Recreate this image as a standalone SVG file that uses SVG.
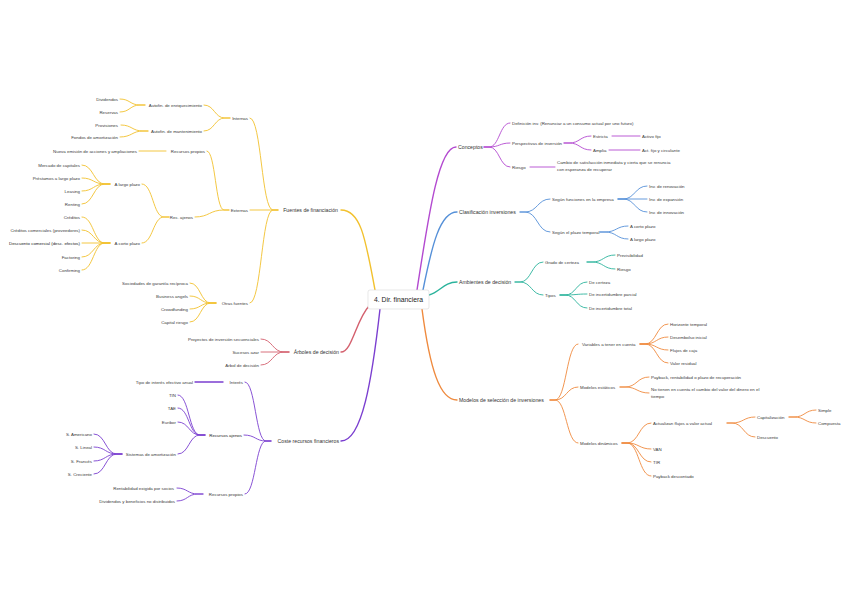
<svg xmlns="http://www.w3.org/2000/svg" width="848" height="599" viewBox="0 0 848 599">
<style>
.t{font-family:"Liberation Sans",Arial,sans-serif;font-size:4.4px;fill:#3a3a3a}
.m{font-size:5.2px;fill:#333}
.e{text-anchor:end}
.c path{fill:none;stroke-linecap:round;stroke-width:0.9}
.c path.k{stroke-width:1.4}
.y path{stroke:#f2c12e}.r path{stroke:#d4606e}.p path{stroke:#7b3fd0}
.g path{stroke:#b34ad0}.b path{stroke:#5590d8}.q path{stroke:#2bb39c}.o path{stroke:#ef8a3e}
</style>
<rect width="848" height="599" fill="#fff"/>
<g id="connectors" class="c">
<g class="y">
<path class="k" d="M375 290 C365 235 360 210 341 210"/>
<path d="M278 210 L273 210 C261.5 210 261.5 118 250 118"/>
<path d="M278 210 L250 210"/>
<path d="M278 210 L273 210 C261.5 210 261.5 303 250 303"/>
<path d="M230 118 L225 118 C214.5 118 214.5 105 204 105"/>
<path d="M230 118 L225 118 C214.5 118 214.5 131 204 131"/>
<path d="M145 105 L140 105 C130 105 130 99 120 99"/>
<path d="M145 105 L140 105 C130 105 130 112 120 112"/>
<path d="M148 131 L143 131 C132 131 132 125 121 125"/>
<path d="M148 131 L143 131 C132 131 132 137 120 137"/>
<path d="M229 210 L224 210 C215.5 210 215.5 151 207 151"/>
<path d="M229 210 L224 210 C209.5 210 209.5 217 195 217"/>
<path d="M166 151 L139 151"/>
<path d="M169 217 L164 217 C153 217 153 184 142 184"/>
<path d="M169 217 L164 217 C153 217 153 243 142 243"/>
<path d="M110 184 L105 184 C93.5 184 93.5 165 82 165"/>
<path d="M110 184 L105 184 C93.5 184 93.5 178 82 178"/>
<path d="M110 184 L105 184 C93.5 184 93.5 191 82 191"/>
<path d="M110 184 L105 184 C93.5 184 93.5 204 82 204"/>
<path d="M110 243 L105 243 C93.5 243 93.5 217 82 217"/>
<path d="M110 243 L105 243 C93.5 243 93.5 230 82 230"/>
<path d="M110 243 L82 243"/>
<path d="M110 243 L105 243 C93.5 243 93.5 257 82 257"/>
<path d="M110 243 L105 243 C93.5 243 93.5 270 82 270"/>
<path d="M216 303 L211 303 C200.5 303 200.5 283 190 283"/>
<path d="M216 303 L211 303 C200.5 303 200.5 296 190 296"/>
<path d="M216 303 L211 303 C200.5 303 200.5 309 190 309"/>
<path d="M216 303 L211 303 C200.5 303 200.5 322 190 322"/>
</g>
<g class="r">
<path class="k" d="M369 306 C356 320 352 352 341 352"/>
<path d="M289 352 L284 352 C272.5 352 272.5 339 261 339"/>
<path d="M289 352 L261 352"/>
<path d="M289 352 L284 352 C272.5 352 272.5 365 261 365"/>
</g>
<g class="p">
<path class="k" d="M380 309 C372 380 362 441 341 441"/>
<path d="M271 441 L266 441 C255.5 441 255.5 382 245 382"/>
<path d="M271 441 L266 441 C255.5 441 255.5 435 244 435"/>
<path d="M271 441 L266 441 C255.5 441 255.5 494 245 494"/>
<path class="k" d="M223 382 L195 382"/>
<path d="M205 435 L200 435 C189 435 189 395 178 395"/>
<path d="M205 435 L200 435 C189 435 189 408 178 408"/>
<path d="M205 435 L200 435 C189 435 189 422 178 422"/>
<path d="M205 435 L200 435 C189 435 189 454 178 454"/>
<path d="M122 454 L117 454 C105.5 454 105.5 434 94 434"/>
<path d="M122 454 L117 454 C105.5 454 105.5 447 94 447"/>
<path d="M122 454 L117 454 C105.5 454 105.5 461 94 461"/>
<path d="M122 454 L117 454 C105.5 454 105.5 474 94 474"/>
<path d="M203 494 L198 494 C187.5 494 187.5 488 177 488"/>
<path d="M203 494 L198 494 C187.5 494 187.5 501 177 501"/>
</g>
<g class="g">
<path class="k" d="M417 290 C428 220 438 147 456 147"/>
<path d="M484 147 L489 147 C499.5 147 499.5 123 510 123"/>
<path d="M484 147 L489 147 C499.5 147 499.5 143 510 143"/>
<path d="M484 147 L489 147 C499.5 147 499.5 167 510 167"/>
<path d="M564 143 L569 143 C580 143 580 136 591 136"/>
<path d="M564 143 L569 143 C580 143 580 150 591 150"/>
<path d="M612 136 L640 136"/>
<path d="M609 150 L640 150"/>
<path d="M530 167 L555 167"/>
</g>
<g class="b">
<path class="k" d="M423 290 C432 245 440 212 457 212"/>
<path d="M520 212 L525 212 C537.5 212 537.5 199 550 199"/>
<path d="M520 212 L525 212 C537.5 212 537.5 232 550 232"/>
<path d="M618 199 L623 199 C635 199 635 186 647 186"/>
<path d="M618 199 L647 199"/>
<path d="M618 199 L623 199 C635 199 635 212 647 212"/>
<path d="M600 232 L605 232 C616.5 232 616.5 226 628 226"/>
<path d="M600 232 L605 232 C616.5 232 616.5 239 628 239"/>
</g>
<g class="q">
<path class="k" d="M429 295 C440 292 444 282 457 282"/>
<path d="M515 282 L520 282 C531.5 282 531.5 262 543 262"/>
<path d="M515 282 L520 282 C531.5 282 531.5 295 543 295"/>
<path d="M587 262 L592 262 C603.5 262 603.5 255 615 255"/>
<path d="M587 262 L592 262 C603.5 262 603.5 269 615 269"/>
<path d="M560 295 L565 295 C576 295 576 282 587 282"/>
<path d="M560 295 L565 295 C576 295 576 294 587 294"/>
<path d="M560 295 L565 295 C576 295 576 308 587 308"/>
</g>
<g class="o">
<path class="k" d="M422 309 C430 370 440 400 457 400"/>
<path d="M550 400 L555 400 C566.5 400 566.5 344 578 344"/>
<path d="M550 400 L555 400 C566.5 400 566.5 387 578 387"/>
<path d="M550 400 L555 400 C566.5 400 566.5 443 578 443"/>
<path d="M640 344 L645 344 C656.5 344 656.5 324 668 324"/>
<path d="M640 344 L645 344 C656.5 344 656.5 337 668 337"/>
<path d="M640 344 L645 344 C656.5 344 656.5 350 668 350"/>
<path d="M640 344 L645 344 C656.5 344 656.5 363 668 363"/>
<path d="M620 387 L625 387 C637 387 637 377 649 377"/>
<path d="M620 387 L625 387 C637 387 637 393 649 393"/>
<path d="M622 443 L627 443 C639 443 639 423 651 423"/>
<path d="M622 443 L627 443 C639 443 639 449 651 449"/>
<path d="M622 443 L627 443 C639 443 639 462 651 462"/>
<path d="M622 443 L627 443 C639 443 639 476 651 476"/>
<path d="M727 423 L732 423 C743.5 423 743.5 417 755 417"/>
<path d="M727 423 L732 423 C743.5 423 743.5 437 755 437"/>
<path d="M789 417 L794 417 C805 417 805 410 816 410"/>
<path d="M789 417 L794 417 C805 417 805 423 816 423"/>
</g>
</g>
<g id="center"><rect x="368" y="290" width="61" height="19" rx="2" fill="#fff" stroke="#d8d8d8" stroke-width="0.6"/><text class="t" x="398.5" y="302" text-anchor="middle" style="font-size:6.8px;fill:#222">4. Dir. financiera</text></g>
<g id="n-fuentes"><text class="t m e" x="338" y="212">Fuentes de financiación</text></g>
<g id="n-internas"><text class="t e" x="248" y="119.5">Internas</text></g>
<g id="n-autoenr"><text class="t e" x="202" y="106.5">Autofin. de enriquecimiento</text></g>
<g id="n-automan"><text class="t e" x="202" y="132.5">Autofin. de mantenimiento</text></g>
<g id="n-dividendos"><text class="t e" x="118" y="100.5">Dividendos</text></g>
<g id="n-reservas"><text class="t e" x="118" y="113.5">Reservas</text></g>
<g id="n-provisiones"><text class="t e" x="118" y="126.5">Provisiones</text></g>
<g id="n-fondos"><text class="t e" x="118" y="138.5">Fondos de amortización</text></g>
<g id="n-externas"><text class="t e" x="248" y="211.5">Externas</text></g>
<g id="n-recpropios"><text class="t e" x="205" y="152.5">Recursos propios</text></g>
<g id="n-nuevas"><text class="t e" x="137" y="152.5">Nueva emisión de acciones y ampliaciones</text></g>
<g id="n-recajenos"><text class="t e" x="193" y="218.5">Rec. ajenos</text></g>
<g id="n-largo"><text class="t e" x="140" y="185.5">A largo plazo</text></g>
<g id="n-mercado"><text class="t e" x="80" y="166.5">Mercado de capitales</text></g>
<g id="n-prestamos"><text class="t e" x="80" y="179.5">Préstamos a largo plazo</text></g>
<g id="n-leasing"><text class="t e" x="80" y="192.5">Leasing</text></g>
<g id="n-renting"><text class="t e" x="80" y="205.5">Renting</text></g>
<g id="n-corto"><text class="t e" x="140" y="244.5">A corto plazo</text></g>
<g id="n-creditos"><text class="t e" x="80" y="218.5">Créditos</text></g>
<g id="n-credcom"><text class="t e" x="80" y="231.5">Créditos comerciales (proveedores)</text></g>
<g id="n-descuento"><text class="t e" x="80" y="244.5" style="fill:#222">Descuento comercial (desc. efectos)</text></g>
<g id="n-factoring"><text class="t e" x="80" y="258.5">Factoring</text></g>
<g id="n-confirming"><text class="t e" x="80" y="271.5">Confirming</text></g>
<g id="n-otras"><text class="t e" x="248" y="304.5">Otras fuentes</text></g>
<g id="n-sgr"><text class="t e" x="188" y="284.5">Sociedades de garantía recíproca</text></g>
<g id="n-business"><text class="t e" x="188" y="297.5">Business angels</text></g>
<g id="n-crowd"><text class="t e" x="188" y="310.5">Crowdfunding</text></g>
<g id="n-capital"><text class="t e" x="188" y="323.5">Capital riesgo</text></g>
<g id="n-arboles"><text class="t m e" x="339" y="354">Árboles de decisión</text></g>
<g id="n-proyectos"><text class="t e" x="259" y="340.5">Proyectos de inversión secuenciales</text></g>
<g id="n-sucesos"><text class="t e" x="259" y="353.5">Sucesos azar</text></g>
<g id="n-arbol"><text class="t e" x="259" y="366.5">Árbol de decisión</text></g>
<g id="n-coste"><text class="t m e" x="339" y="443">Coste recursos financieros</text></g>
<g id="n-interes"><text class="t e" x="243" y="383.5">Interés</text></g>
<g id="n-tipoint"><text class="t e" x="193" y="383.5">Tipo de interés efectivo anual</text></g>
<g id="n-cajenos"><text class="t e" x="242" y="436.5" style="fill:#222">Recursos ajenos</text></g>
<g id="n-tin"><text class="t e" x="176" y="396.5">TIN</text></g>
<g id="n-tae"><text class="t e" x="176" y="409.5">TAE</text></g>
<g id="n-euribor"><text class="t e" x="176" y="423.5">Euribor</text></g>
<g id="n-sistemas"><text class="t e" x="176" y="455.5">Sistemas de amortización</text></g>
<g id="n-sameri"><text class="t e" x="92" y="435.5">S. Americano</text></g>
<g id="n-slineal"><text class="t e" x="92" y="448.5">S. Lineal</text></g>
<g id="n-sfrances"><text class="t e" x="92" y="462.5">S. Francés</text></g>
<g id="n-screc"><text class="t e" x="92" y="475.5">S. Creciente</text></g>
<g id="n-cpropios"><text class="t e" x="243" y="495.5">Recursos propios</text></g>
<g id="n-rentab"><text class="t e" x="174" y="489.5">Rentabilidad exigida por socios</text></g>
<g id="n-divben"><text class="t e" x="175" y="502.5">Dividendos y beneficios no distribuidos</text></g>
<g id="n-conceptos"><text class="t m" x="458" y="149">Conceptos</text></g>
<g id="n-definicion"><text class="t" x="512" y="124.5">Definición inv. (Renunciar a un consumo actual por uno futuro)</text></g>
<g id="n-perspectivas"><text class="t" x="512" y="144.5">Perspectivas de inversión</text></g>
<g id="n-riesgo1"><text class="t" x="512" y="168.5">Riesgo</text></g>
<g id="n-estricta"><text class="t" x="593" y="137.5">Estricta</text></g>
<g id="n-amplia"><text class="t" x="593" y="151.5">Amplia</text></g>
<g id="n-activo"><text class="t" x="642" y="137.5">Activo fijo</text></g>
<g id="n-actcirc"><text class="t" x="642" y="151.5">Act. fijo y circulante</text></g>
<g id="n-cambio"><text class="t" x="557" y="164.2">Cambio de satisfacción inmediata y cierta que se renuncia</text><text class="t" x="557" y="171">con esperanza de recuperar</text></g>
<g id="n-clasif"><text class="t m" x="459" y="214">Clasificación inversiones</text></g>
<g id="n-funciones"><text class="t" x="552" y="200.5">Según funciones en la empresa</text></g>
<g id="n-plazo"><text class="t" x="552" y="233.5">Según el plazo temporal</text></g>
<g id="n-renov"><text class="t" x="649" y="187.5">Inv. de renovación</text></g>
<g id="n-expan"><text class="t" x="649" y="200.5">Inv. de expansión</text></g>
<g id="n-innov"><text class="t" x="649" y="213.5">Inv. de innovación</text></g>
<g id="n-cplazo"><text class="t" x="630" y="227.5">A corto plazo</text></g>
<g id="n-lplazo"><text class="t" x="630" y="240.5">A largo plazo</text></g>
<g id="n-ambientes"><text class="t m" x="459" y="284">Ambientes de decisión</text></g>
<g id="n-grado"><text class="t" x="545" y="263.5">Grado de certeza</text></g>
<g id="n-previs"><text class="t" x="617" y="256.5">Previsibilidad</text></g>
<g id="n-riesgo2"><text class="t" x="617" y="270.5">Riesgo</text></g>
<g id="n-tipos"><text class="t" x="545" y="296.5">Tipos</text></g>
<g id="n-certeza"><text class="t" x="589" y="283.5">De certeza</text></g>
<g id="n-parcial"><text class="t" x="589" y="295.5">De incertidumbre parcial</text></g>
<g id="n-total"><text class="t" x="589" y="309.5">De incertidumbre total</text></g>
<g id="n-modelos"><text class="t m" x="459" y="402">Modelos de selección de inversiones</text></g>
<g id="n-variables"><text class="t" x="582" y="345.5">Variables a tener en cuenta</text></g>
<g id="n-estaticos"><text class="t" x="580" y="388.5">Modelos estáticos</text></g>
<g id="n-dinamicos"><text class="t" x="580" y="444.5">Modelos dinámicos</text></g>
<g id="n-horizonte"><text class="t" x="670" y="325.5">Horizonte temporal</text></g>
<g id="n-desembolso"><text class="t" x="670" y="338.5">Desembolso inicial</text></g>
<g id="n-flujos"><text class="t" x="670" y="351.5">Flujos de caja</text></g>
<g id="n-valor"><text class="t" x="670" y="364.5">Valor residual</text></g>
<g id="n-payback"><text class="t" x="651" y="378.5">Payback, rentabilidad o plazo de recuperación</text></g>
<g id="n-notienen"><text class="t" x="651" y="391.2">No tienen en cuenta el cambio del valor del dinero en el</text><text class="t" x="651" y="398">tiempo</text></g>
<g id="n-actualizan"><text class="t" x="653" y="424.5">Actualizan flujos a valor actual</text></g>
<g id="n-capitaliz"><text class="t" x="757" y="418.5">Capitalización</text></g>
<g id="n-descuento2"><text class="t" x="757" y="438.5">Descuento</text></g>
<g id="n-simple"><text class="t" x="818" y="411.5">Simple</text></g>
<g id="n-compuesta"><text class="t" x="818" y="424.5">Compuesta</text></g>
<g id="n-van"><text class="t" x="653" y="450.5">VAN</text></g>
<g id="n-tir"><text class="t" x="653" y="463.5">TIR</text></g>
<g id="n-paydesc"><text class="t" x="653" y="477.5">Payback descontado</text></g>
</svg>
